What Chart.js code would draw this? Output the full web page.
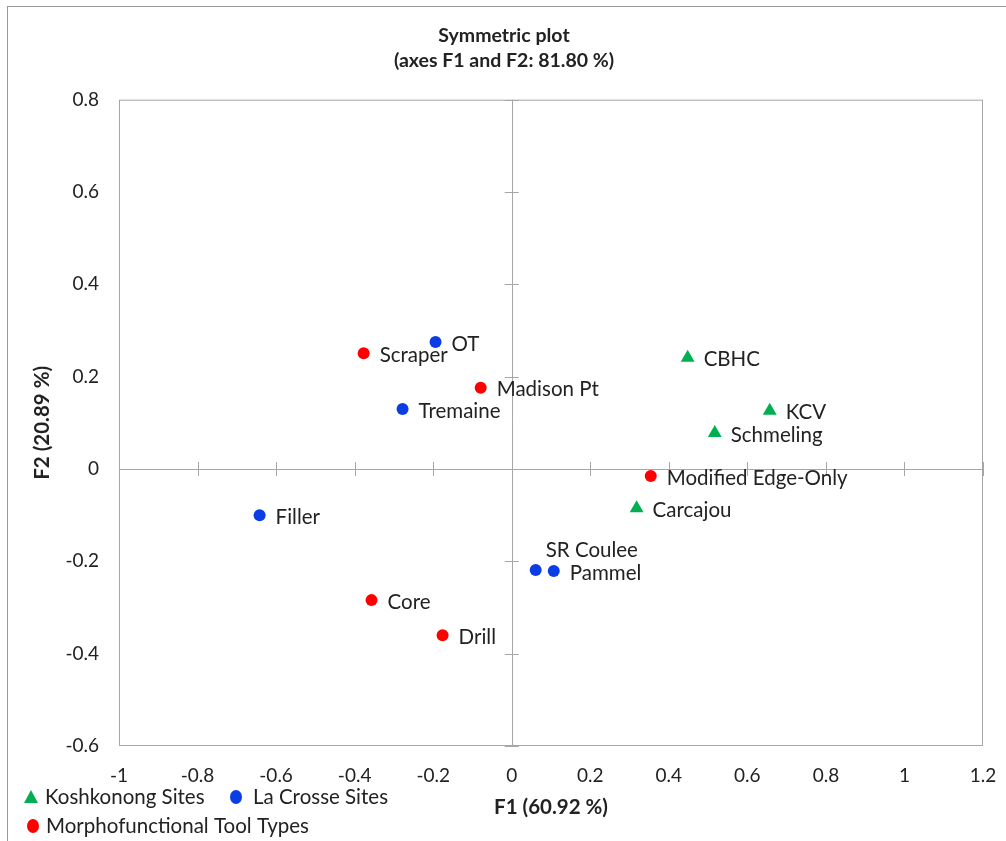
<!DOCTYPE html>
<html>
<head>
<meta charset="utf-8">
<script src="https://cdn.jsdelivr.net/npm/chart.js@4.4.1/dist/chart.umd.min.js"></script>
<style>
  html, body { margin: 0; padding: 0; background: #fff; }
  #wrap { position: relative; width: 1006px; height: 841px; }
  #frame { position: absolute; left: 7px; top: 6px; right: -2px; bottom: -2px; border-left: 1px solid #999; border-top: 1px solid #999; pointer-events: none; }
</style>
</head>
<body>
<div id="wrap">
  <canvas id="ca" width="1006" height="841"></canvas>
  <div id="frame"></div>
</div>
<script>
// Koshkonong sites
const koshNames = ['CBHC', 'KCV', 'Schmeling', 'Carcajou'];
const koshF1 = [0.448, 0.657, 0.517, 0.318];
const koshF2 = [0.241, 0.126, 0.078, -0.085];

// La Crosse sites
const laxNames = ['OT', 'Tremaine', 'Filler', 'SR Coulee', 'Pammel'];
const laxF1 = [-0.194, -0.278, -0.642, 0.061, 0.107];
const laxF2 = [0.275, 0.130, -0.100, -0.219, -0.221];

// tool types
const toolNames = ['Scraper', 'Madison Pt', 'Modified Edge-Only', 'Core', 'Drill'];
const toolF1 = [-0.377, -0.079, 0.354, -0.357, -0.176];
const toolF2 = [0.251, 0.176, -0.015, -0.284, -0.360];

const xTicks = [-1, -0.8, -0.6, -0.4, -0.2, 0, 0.2, 0.4, 0.6, 0.8, 1, 1.2];
const yTicks = [-0.6, -0.4, -0.2, 0, 0.2, 0.4, 0.6, 0.8];

const FONT = 'Lato, Carlito, "Open Sans", sans-serif';

function pts(xs, ys) {
    return xs.map((x, i) => ({ x: x, y: ys[i] }));
}

// axis lines through the origin with cross ticks
const originAxes = {
    id: 'originAxes',
    beforeDatasetsDraw(chart) {
        const { ctx, chartArea: a, scales: { x, y } } = chart;
        const x0 = x.getPixelForValue(0), y0 = y.getPixelForValue(0);
        ctx.save();
        ctx.strokeStyle = '#a6a6a6';
        ctx.lineWidth = 1;
        ctx.strokeRect(a.left + 0.5, a.top + 0.5, a.right - a.left - 1, a.bottom - a.top - 1);
        ctx.beginPath();
        ctx.moveTo(a.left, Math.round(y0) + 0.5); ctx.lineTo(a.right, Math.round(y0) + 0.5);
        ctx.moveTo(Math.round(x0) + 0.5, a.top); ctx.lineTo(Math.round(x0) + 0.5, a.bottom);
        xTicks.forEach(v => {
            const px = Math.round(x.getPixelForValue(v)) + 0.5;
            ctx.moveTo(px, y0 - 7); ctx.lineTo(px, y0 + 7);
        });
        yTicks.forEach(v => {
            const py = Math.round(y.getPixelForValue(v)) + 0.5;
            ctx.moveTo(x0 - 7, py); ctx.lineTo(x0 + 7, py);
        });
        ctx.stroke();
        ctx.restore();
    }
};

// text label next to each point
const pointNames = {
    id: 'pointNames',
    afterDatasetsDraw(chart, args, opts) {
        const ctx = chart.ctx;
        ctx.save();
        ctx.font = '20.5px ' + FONT;
        ctx.fillStyle = '#222';
        ctx.textBaseline = 'middle';
        chart.data.datasets.forEach((ds, di) => {
            chart.getDatasetMeta(di).data.forEach((el, i) => {
                const name = ds.names[i];
                const off = opts.shift[name] || [16, 2];
                ctx.fillText(name, el.x + off[0], el.y + off[1]);
            });
        });
        ctx.restore();
    }
};

// legend in the lower left corner
const cornerLegend = {
    id: 'cornerLegend',
    afterDraw(chart, args, opts) {
        const ctx = chart.ctx;
        ctx.save();
        ctx.font = '20.5px ' + FONT;
        ctx.textBaseline = 'middle';
        opts.items.forEach(it => {
            const ds = chart.data.datasets[it.ds];
            ctx.fillStyle = ds.backgroundColor;
            ctx.beginPath();
            if (ds.pointStyle === 'triangle') {
                ctx.moveTo(it.x, it.y - 7); ctx.lineTo(it.x + 7, it.y + 6); ctx.lineTo(it.x - 7, it.y + 6);
                ctx.closePath();
            } else {
                ctx.ellipse(it.x, it.y, 6, 7, 0, 0, Math.PI * 2);
            }
            ctx.fill();
            ctx.fillStyle = '#222';
            ctx.fillText(ds.label, it.x + it.gap, it.y);
        });
        ctx.restore();
    }
};

new Chart(document.getElementById('ca'), {
    type: 'scatter',
    data: {
        datasets: [
            { label: 'Koshkonong Sites', names: koshNames, data: pts(koshF1, koshF2),
              pointStyle: 'triangle', pointRadius: 8, backgroundColor: '#00b050', borderColor: '#00b050', borderWidth: 0 },
            { label: 'La Crosse Sites', names: laxNames, data: pts(laxF1, laxF2),
              pointStyle: 'circle', pointRadius: 6, backgroundColor: '#0a3de6', borderColor: '#0a3de6', borderWidth: 0 },
            { label: 'Morphofunctional Tool Types', names: toolNames, data: pts(toolF1, toolF2),
              pointStyle: 'circle', pointRadius: 6, backgroundColor: '#ff0000', borderColor: '#ff0000', borderWidth: 0 }
        ]
    },
    options: {
        responsive: false,
        animation: false,
        layout: { padding: { top: 0, right: 23, bottom: 0, left: 25 } },
        plugins: {
            legend: { display: false },
            tooltip: { enabled: false },
            title: {
                display: true,
                text: ['Symmetric plot', '(axes F1 and F2: 81.80 %)'],
                color: '#222',
                font: { family: FONT, size: 19.5, weight: 'bold', lineHeight: 1.3 },
                padding: { top: 23, bottom: 26 }
            },
            pointNames: { shift: { 'SR Coulee': [10, -20] } },
            cornerLegend: { items: [
                { ds: 0, x: 31, y: 797, gap: 14 },
                { ds: 1, x: 236, y: 797, gap: 17 },
                { ds: 2, x: 33, y: 826, gap: 13 }
            ] }
        },
        scales: {
            x: {
                type: 'linear',
                min: -1, max: 1.2,
                afterBuildTicks: s => { s.ticks = xTicks.map(v => ({ value: v })); },
                afterFit: s => { s.height = 95; s.paddingLeft = 0; s.paddingRight = 0; },
                grid: { display: false, drawTicks: false },
                border: { display: false },
                ticks: { color: '#222', padding: 18, font: { family: FONT, size: 19 },
                         callback: v => String(Math.round(v * 10) / 10) },
                title: { display: true, text: 'F1 (60.92 %)', color: '#222',
                         font: { family: FONT, size: 20.5, weight: 'bold' }, padding: { top: 8, bottom: 21 } }
            },
            y: {
                type: 'linear',
                min: -0.6, max: 0.8,
                afterBuildTicks: s => { s.ticks = yTicks.map(v => ({ value: v })); },
                afterFit: s => { s.width = 94; },
                grid: { display: false, drawTicks: false },
                border: { display: false },
                ticks: { color: '#222', padding: 20, font: { family: FONT, size: 19 },
                         callback: v => String(Math.round(v * 10) / 10) },
                title: { display: true, text: 'F2 (20.89 %)', color: '#222',
                         font: { family: FONT, size: 20.5, weight: 'bold' }, padding: { top: 5 } }
            }
        }
    },
    plugins: [originAxes, pointNames, cornerLegend]
});
</script>
</body>
</html>
